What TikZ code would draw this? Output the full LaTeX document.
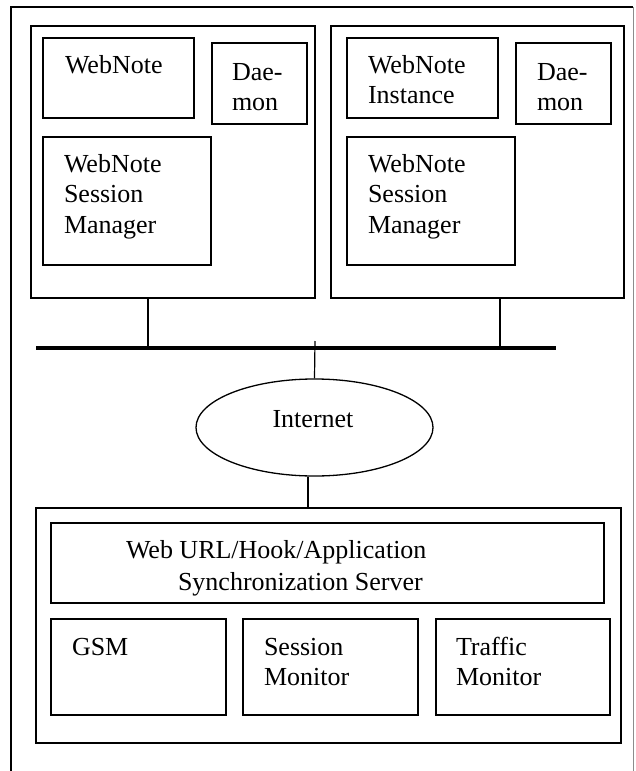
\documentclass[tikz,border=0pt]{standalone}
\usepackage{fontspec}
\setmainfont{Liberation Serif}
\usetikzlibrary{shapes.geometric}
\tikzset{
  box/.style={draw=black, line width=1.3pt, anchor=north west, inner sep=0pt, outer sep=0pt},
  label/.style={anchor=base west, inner sep=0pt, outer sep=0pt, font=\fontsize{26}{30.5}\selectfont},
  wire/.style={draw=black, line width=1.2pt},
  bus/.style={draw=black, line width=3.6pt},
}
\newcommand\lines[1]{\parbox[t]{15cm}{\raggedright #1}}
\begin{document}
\begin{tikzpicture}[x=1pt, y=-1pt]
\useasboundingbox (0,0) rectangle (635,771);
% page frame
\draw[black, line width=1.2pt] (11,771) -- (11,7) -- (633,7);
\draw[black!45, line width=1pt] (633,7) -- (633,771);

% first host
\node[box, minimum width=284pt, minimum height=272pt] (hostA) at (31,26) {};
\node[box, minimum width=151pt, minimum height=80pt] (wnA) at (43,38) {};
\node[box, minimum width=95pt, minimum height=81pt] (dmA) at (212,43) {};
\node[box, minimum width=168pt, minimum height=128pt] (smA) at (43,137) {};
\node[label] (wnAt) at (65,73) {WebNote};
\node[label] (dmAt) at (232,80) {\lines{Dae-\\mon}};
\node[label] (smAt) at (64,172) {\lines{WebNote\\Session\\Manager}};

% second host
\node[box, minimum width=293pt, minimum height=272pt] (hostB) at (331,26) {};
\node[box, minimum width=151pt, minimum height=80pt] (wnB) at (347,38) {};
\node[box, minimum width=95pt, minimum height=81pt] (dmB) at (516,43) {};
\node[box, minimum width=168pt, minimum height=128pt] (smB) at (347,137) {};
\node[label] (wnBt) at (368,73) {\lines{WebNote\\Instance}};
\node[label] (dmBt) at (537,80) {\lines{Dae-\\mon}};
\node[label] (smBt) at (368,172) {\lines{WebNote\\Session\\Manager}};

% network bus
\coordinate (busL) at (36,348);
\coordinate (busR) at (556,348);
\draw[bus] (busL) -- (busR);
\draw[wire] (hostA.south -| 148,0) -- (148,348);
\draw[wire] (hostB.south -| 500,0) -- (500,348);

% Internet cloud
\node[draw=black, line width=1.3pt, ellipse, minimum width=237pt, minimum height=97pt, inner sep=0pt] (inet) at (314.5,427.5) {};
\node[anchor=base, inner sep=0pt, font=\fontsize{26}{30.5}\selectfont] (inett) at (313,427) {Internet};
\coordinate (stub) at (315,341);
\draw[wire] (stub) -- (inet.north);

% synchronization server
\node[box, minimum width=585pt, minimum height=235pt] (srv) at (36,508) {};
\draw[wire] ([xshift=-6.5pt]inet.south) -- ([xshift=-6.5pt]inet.south |- srv.north);
\node[box, minimum width=553pt, minimum height=80pt] (sync) at (51,523) {};
\node[label, font=\fontsize{26}{32}\selectfont] (synct) at (126,558) {\lines{Web URL/Hook/Application\\\hspace*{52pt}Synchronization Server}};
\node[box, minimum width=175pt, minimum height=96pt] (gsm) at (51,619) {};
\node[box, minimum width=175pt, minimum height=96pt] (sess) at (243,619) {};
\node[box, minimum width=174pt, minimum height=96pt] (traf) at (436,619) {};
\node[label] (gsmt) at (72,655) {GSM};
\node[label] (sesst) at (264,655) {\lines{Session\\Monitor}};
\node[label] (traft) at (456,655) {\lines{Traffic\\Monitor}};
\end{tikzpicture}
\end{document}
